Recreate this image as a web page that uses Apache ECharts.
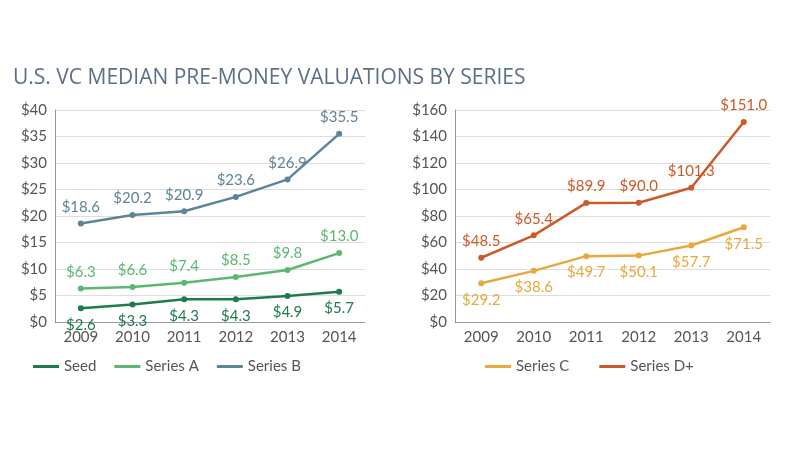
<!DOCTYPE html>
<html><head><meta charset="utf-8">
<script src="https://cdn.jsdelivr.net/npm/echarts@6/dist/echarts.min.js"></script>
<style>html,body{margin:0;background:#fff}#c{width:800px;height:450px}</style>
</head><body><div id="c"></div>
<script>
const years = ['2009', '2010', '2011', '2012', '2013', '2014'];
const seed = [2.6, 3.3, 4.3, 4.3, 4.9, 5.7];
const seriesA = [6.3, 6.6, 7.4, 8.5, 9.8, 13.0];
const seriesB = [18.6, 20.2, 20.9, 23.6, 26.9, 35.5];
const seriesC = [29.2, 38.6, 49.7, 50.1, 57.7, 71.5];
const seriesD = [48.5, 65.4, 89.9, 90.0, 101.3, 151.0];

const chart = echarts.init(document.getElementById('c'));
const font = 'Lato';
const axisText = { color: '#555', fontSize: 15, fontFamily: font };

function line(name, data, color, pos, xi, yi) {
  return {
    name: name, type: 'line', data: data, xAxisIndex: xi, yAxisIndex: yi,
    symbol: 'circle', symbolSize: 6,
    itemStyle: { color: color }, lineStyle: { color: color, width: 2.5 },
    label: {
      show: true, position: pos, distance: 6, color: color, fontSize: 15, fontFamily: font,
      formatter: p => '$' + p.value.toFixed(1)
    }
  };
}

const option = {
  title: {
    text: 'U.S. VC MEDIAN PRE-MONEY VALUATIONS BY SERIES',
    left: 8, top: 63,
    textStyle: { color: '#5b7088', fontSize: 21, fontWeight: 'normal', fontFamily: 'Open Sans' }
  },
  legend: [
    { data: ['Seed', 'Series A', 'Series B'], left: 28, top: 354, itemWidth: 26, itemGap: 18,
      icon: 'path://M0,4L26,4L26,7L0,7Z', textStyle: axisText },
    { data: ['Series C', 'Series D+'], left: 480, top: 354, itemWidth: 26, itemGap: 30,
      icon: 'path://M0,4L26,4L26,7L0,7Z', textStyle: axisText }
  ],
  grid: [
    { left: 55, right: 435, top: 110, bottom: 128 },
    { left: 455, right: 30, top: 110, bottom: 128 }
  ],
  xAxis: [0, 1].map(i => ({
    type: 'category', data: years, gridIndex: i,
    axisLine: { lineStyle: { color: '#999' } }, axisTick: { show: false },
    axisLabel: axisText
  })),
  yAxis: [
    { type: 'value', gridIndex: 0, min: 0, max: 40, interval: 5,
      axisLabel: Object.assign({ formatter: '${value}' }, axisText),
      axisLine: { show: true, lineStyle: { color: '#999' } },
      splitLine: { lineStyle: { color: '#ddd' } } },
    { type: 'value', gridIndex: 1, min: 0, max: 160, interval: 20,
      axisLabel: Object.assign({ formatter: '${value}' }, axisText),
      axisLine: { show: true, lineStyle: { color: '#999' } },
      splitLine: { lineStyle: { color: '#ddd' } } }
  ],
  series: [
    line('Seed', seed, '#1f7a4c', 'bottom', 0, 0),
    line('Series A', seriesA, '#5cb870', 'top', 0, 0),
    line('Series B', seriesB, '#5e8497', 'top', 0, 0),
    line('Series C', seriesC, '#e8a83c', 'bottom', 1, 1),
    line('Series D+', seriesD, '#cc5a29', 'top', 1, 1)
  ]
};
chart.setOption(option);
</script></body></html>
